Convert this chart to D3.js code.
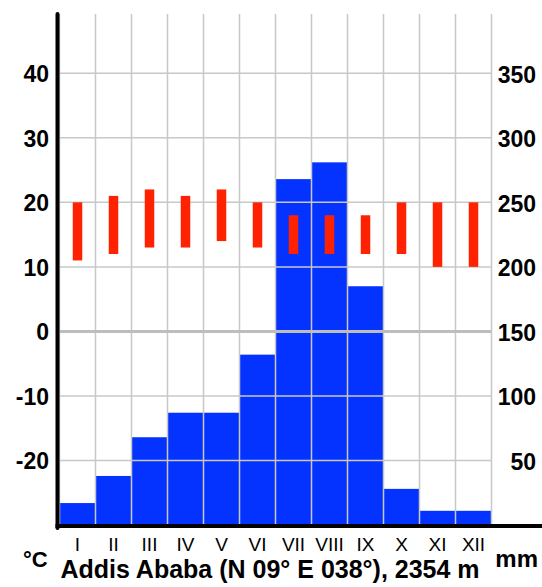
<!DOCTYPE html>
<html>
<head>
<meta charset="utf-8">
<script src="https://cdn.jsdelivr.net/npm/d3@7"></script>
<style>
  body { margin: 0; background: #fff; }
  text { font-family: "Liberation Sans", Arial, sans-serif; }
</style>
</head>
<body>
<div id="chart"></div>
<script>
// Climate data, Addis Ababa
const months = ["I", "II", "III", "IV", "V", "VI", "VII", "VIII", "IX", "X", "XI", "XII"];
const precip = [17, 38, 68, 87, 87, 132, 268, 281, 185, 28, 11, 11];   // mm
const tMax = [20, 21, 22, 21, 22, 20, 18, 18, 18, 20, 20, 20];         // °C
const tMin = [11, 12, 13, 13, 14, 13, 12, 12, 12, 12, 10, 10];         // °C
const tempTicks = [-20, -10, 0, 10, 20, 30, 40];
const precipTicks = [50, 100, 150, 200, 250, 300, 350];

const W = 542, H = 587;
const plot = { left: 59.5, right: 491.5, top: 14, bottom: 525 };

const svg = d3.select("#chart").append("svg")
  .attr("width", W).attr("height", H);

// scales: -30 °C sits on the 0 mm baseline, 10 °C per 50 mm
const x = d3.scaleBand().domain(months).range([plot.left, plot.right]).padding(0);
const yT = d3.scaleLinear().domain([-30, 40]).range([plot.bottom, 73.3]);
const yP = d3.scaleLinear().domain([0, 350]).range([plot.bottom, 73.3]);

// precipitation bars
svg.append("g").selectAll("rect")
  .data(precip)
  .join("rect")
  .attr("x", (d, i) => x(months[i]))
  .attr("y", d => yP(d))
  .attr("width", x.bandwidth())
  .attr("height", d => plot.bottom - yP(d))
  .attr("fill", "#0433ff");

// grid (drawn over the bars)
const grid = svg.append("g").attr("stroke", "#c8c8c8").attr("stroke-width", 1.5);
d3.range(months.length + 1).forEach(i => {
  const gx = plot.left + i * x.bandwidth();
  grid.append("line")
    .attr("x1", gx).attr("x2", gx)
    .attr("y1", plot.top).attr("y2", plot.bottom);
});
tempTicks.forEach(t => {
  grid.append("line")
    .attr("x1", plot.left).attr("x2", plot.right)
    .attr("y1", yT(t)).attr("y2", yT(t))
    .attr("stroke-width", t === 0 ? 3 : 1.5)
    .attr("stroke", t === 0 ? "#bdbdbd" : "#c8c8c8");
});

// temperature range bars
svg.append("g").selectAll("rect")
  .data(tMax)
  .join("rect")
  .attr("x", (d, i) => x(months[i]) + x.bandwidth() / 2 - 4.75)
  .attr("y", d => yT(d))
  .attr("width", 9.5)
  .attr("height", (d, i) => yT(tMin[i]) - yT(d))
  .attr("fill", "#ff2200");

// axes lines
svg.append("line")
  .attr("x1", 57.5).attr("x2", 57.5)
  .attr("y1", plot.top).attr("y2", plot.bottom + 3)
  .attr("stroke", "#000").attr("stroke-width", 4)
  .attr("stroke-linecap", "round");
svg.append("line")
  .attr("x1", 55.5).attr("x2", W)
  .attr("y1", plot.bottom + 1).attr("y2", plot.bottom + 1)
  .attr("stroke", "#000").attr("stroke-width", 4);

// left tick labels
svg.append("g").selectAll("text")
  .data(tempTicks)
  .join("text")
  .attr("x", 49)
  .attr("y", d => yT(d) + 9)
  .attr("text-anchor", "end")
  .attr("font-size", 23)
  .attr("font-weight", "bold")
  .text(d => d);

// right tick labels
svg.append("g").selectAll("text")
  .data(precipTicks)
  .join("text")
  .attr("x", 536)
  .attr("y", d => yP(d) + 9.5)
  .attr("text-anchor", "end")
  .attr("font-size", 23)
  .attr("font-weight", "bold")
  .text(d => d);

// month labels
svg.append("g").selectAll("text")
  .data(months)
  .join("text")
  .attr("x", d => x(d) + x.bandwidth() / 2)
  .attr("y", 551)
  .attr("text-anchor", "middle")
  .attr("font-size", 19)
  .text(d => d);

// units and title
svg.append("text")
  .attr("x", 23).attr("y", 567)
  .attr("font-size", 22).attr("font-weight", "bold")
  .text("°C");
svg.append("text")
  .attr("x", 538).attr("y", 567)
  .attr("text-anchor", "end")
  .attr("font-size", 24).attr("font-weight", "bold")
  .text("mm");
svg.append("text")
  .attr("x", 270).attr("y", 578)
  .attr("text-anchor", "middle")
  .attr("font-size", 25).attr("font-weight", "bold")
  .text("Addis Ababa (N 09° E 038°), 2354 m");
</script>
</body>
</html>
